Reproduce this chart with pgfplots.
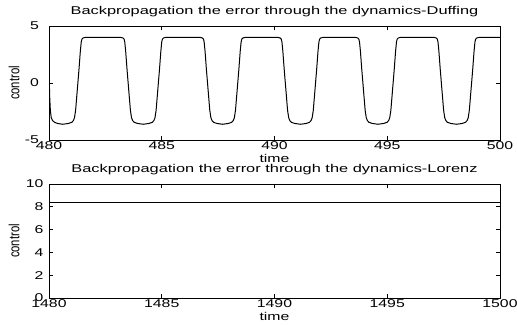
\documentclass[border=0pt]{standalone}
\usepackage{fontspec}
\setmainfont{Liberation Sans}[FakeStretch=1.4]
\newfontfamily\ylfont{Liberation Sans}
\newfontfamily\titlefont{Liberation Sans}[FakeStretch=1.45]
\usepackage{pgfplots}
\pgfplotsset{compat=1.18}
\pgfplotsset{
  mystyle/.style={
    scale only axis, width=451bp, height=114bp, anchor=south west,
    axis line style={line width=0.8bp}, every tick/.style={black, line width=0.6bp},
    major tick length=4bp, tick align=inside,
    /pgf/number format/assume math mode=true,
    /pgf/number format/1000 sep={}, scaled ticks=false,
    xticklabel style={inner sep=1.5bp},
    xlabel style={inner sep=1bp, yshift=-2bp},
    title style={inner sep=2bp, yshift=1bp, font=\titlefont},
    ylabel style={at={(axis description cs:-0.0776,0.5)}, anchor=center},
  }
}
\begin{document}
\fontsize{11.3bp}{13bp}\selectfont
\begin{tikzpicture}
\useasboundingbox (0,0) rectangle (517bp,325bp);
\begin{axis}[mystyle, at={(49bp,185bp)},
  xmin=480, xmax=500, ymin=-5, ymax=5,
  xtick={480,485,...,500}, ytick={-5,0,5},
  yticklabel style={xshift=-6bp},
  title={Backpropagation the error through the dynamics-Duffing},
  xlabel={time}, ylabel={\scalebox{1}[1.3]{\ylfont control}}]
\addplot[black, line width=1bp, line join=round] coordinates {
(480,1.4)(480.03,-1.2)(480.06,-2.4)(480.10,-3.05)(480.16,-3.3)(480.25,-3.45)(480.38,-3.55)(480.61,-3.62)
(480.86,-3.55)(481.01,-3.45)(481.08,-3.3)(481.13,-3.05)(481.18,-2.4)(481.23,-1.2)(481.28,0)(481.33,1.2)(481.39,2.8)(481.43,3.6)(481.46,3.85)(481.51,3.95)(481.61,4.0)
(483.18,4.0)(483.28,3.95)(483.33,3.85)(483.36,3.6)(483.40,2.8)(483.46,1.2)(483.51,0)(483.56,-1.2)(483.61,-2.4)(483.66,-3.05)(483.71,-3.3)(483.78,-3.45)(483.93,-3.55)(484.18,-3.62)
(484.43,-3.55)(484.58,-3.45)(484.65,-3.3)(484.70,-3.05)(484.75,-2.4)(484.80,-1.2)(484.85,0)(484.90,1.2)(484.96,2.8)(485.00,3.6)(485.03,3.85)(485.08,3.95)(485.18,4.0)
(486.70,4.0)(486.80,3.95)(486.85,3.85)(486.88,3.6)(486.92,2.8)(486.98,1.2)(487.03,0)(487.08,-1.2)(487.13,-2.4)(487.18,-3.05)(487.23,-3.3)(487.30,-3.45)(487.45,-3.55)(487.70,-3.62)
(487.95,-3.55)(488.10,-3.45)(488.17,-3.3)(488.22,-3.05)(488.27,-2.4)(488.32,-1.2)(488.37,0)(488.42,1.2)(488.48,2.8)(488.52,3.6)(488.55,3.85)(488.60,3.95)(488.70,4.0)
(490.15,4.0)(490.25,3.95)(490.30,3.85)(490.33,3.6)(490.37,2.8)(490.43,1.2)(490.48,0)(490.53,-1.2)(490.58,-2.4)(490.63,-3.05)(490.68,-3.3)(490.75,-3.45)(490.90,-3.55)(491.15,-3.62)
(491.40,-3.55)(491.55,-3.45)(491.62,-3.3)(491.67,-3.05)(491.72,-2.4)(491.77,-1.2)(491.82,0)(491.87,1.2)(491.93,2.8)(491.97,3.6)(492.00,3.85)(492.05,3.95)(492.15,4.0)
(493.59,4.0)(493.69,3.95)(493.74,3.85)(493.77,3.6)(493.81,2.8)(493.87,1.2)(493.92,0)(493.97,-1.2)(494.02,-2.4)(494.07,-3.05)(494.12,-3.3)(494.19,-3.45)(494.34,-3.55)(494.59,-3.62)
(494.84,-3.55)(494.99,-3.45)(495.06,-3.3)(495.11,-3.05)(495.16,-2.4)(495.21,-1.2)(495.26,0)(495.31,1.2)(495.37,2.8)(495.41,3.6)(495.44,3.85)(495.49,3.95)(495.59,4.0)
(497.07,4.0)(497.17,3.95)(497.22,3.85)(497.25,3.6)(497.29,2.8)(497.35,1.2)(497.40,0)(497.45,-1.2)(497.50,-2.4)(497.55,-3.05)(497.60,-3.3)(497.67,-3.45)(497.82,-3.55)(498.07,-3.62)
(498.32,-3.55)(498.47,-3.45)(498.54,-3.3)(498.59,-3.05)(498.64,-2.4)(498.69,-1.2)(498.74,0)(498.79,1.2)(498.85,2.8)(498.89,3.6)(498.92,3.85)(498.97,3.95)(499.07,4.0)(500,4.0)
};
\end{axis}
\begin{axis}[mystyle, at={(49bp,27bp)},
  xmin=1480, xmax=1500, ymin=0, ymax=10,
  xtick={1480,1485,...,1500}, ytick={0,2,...,10},
  yticklabel style={xshift=-1.5bp},
  title={Backpropagation the error through the dynamics-Lorenz},
  xlabel={time}, ylabel={\scalebox{1}[1.3]{\ylfont control}}]
\addplot[black, line width=1bp] coordinates {(1480,8.4)(1485,8.4)(1490,8.4)(1495,8.4)(1500,8.4)};
\end{axis}
\end{tikzpicture}
\end{document}
